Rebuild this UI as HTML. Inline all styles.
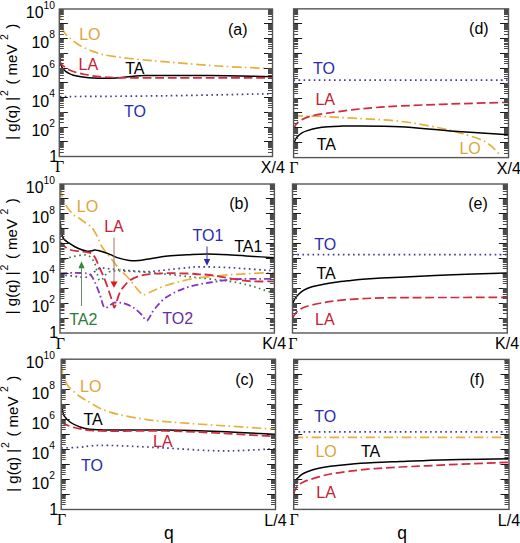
<!DOCTYPE html>
<html><head><meta charset="utf-8"><style>
html,body{margin:0;padding:0;background:#fff;}
body{width:520px;height:543px;overflow:hidden;font-family:"Liberation Sans",sans-serif;}
svg{display:block;}
</style></head><body><svg width="520" height="543" viewBox="0 0 520 543" font-family="Liberation Sans, sans-serif"><defs><clipPath id="clipa"><rect x="59.30" y="9.00" width="213.20" height="147.50"/></clipPath><clipPath id="clipb"><rect x="60.00" y="184.00" width="214.40" height="149.00"/></clipPath><clipPath id="clipc"><rect x="61.20" y="359.20" width="214.30" height="150.30"/></clipPath><clipPath id="clipd"><rect x="293.60" y="8.85" width="214.90" height="148.75"/></clipPath><clipPath id="clipe"><rect x="292.50" y="184.00" width="214.80" height="149.00"/></clipPath><clipPath id="clipf"><rect x="293.70" y="359.40" width="215.30" height="150.00"/></clipPath></defs><path d="M59.80,96.60 C77.33,96.47 129.55,96.28 165.00,95.80 C200.45,95.32 254.58,94.05 272.50,93.70" fill="none" stroke="#3a3a9a" stroke-width="1.70" stroke-dasharray="1.6 3.45" stroke-linecap="butt" clip-path="url(#clipa)"/><path d="M59.60,10.00 C59.72,11.00 60.03,14.00 60.30,16.00 C60.57,18.00 60.87,20.17 61.20,22.00 C61.53,23.83 61.88,25.47 62.30,27.00 C62.72,28.53 63.08,29.93 63.70,31.20 C64.32,32.47 64.97,33.48 66.00,34.60 C67.03,35.72 68.23,36.50 69.90,37.90 C71.57,39.30 73.65,41.38 76.00,43.00 C78.35,44.62 81.13,46.20 84.00,47.60 C86.87,49.00 90.12,50.25 93.20,51.40 C96.28,52.55 98.90,53.63 102.50,54.50 C106.10,55.37 110.22,55.93 114.80,56.60 C119.38,57.27 124.37,57.88 130.00,58.50 C135.63,59.12 142.93,59.77 148.60,60.30 C154.27,60.83 152.43,60.75 164.00,61.70 C175.57,62.65 199.92,64.83 218.00,66.00 C236.08,67.17 263.42,68.25 272.50,68.70" fill="none" stroke="#e8b040" stroke-width="1.70" stroke-dasharray="9.5 3.3 1.6 3.6" clip-path="url(#clipa)"/><path d="M59.70,55.00 C59.80,56.17 60.05,60.25 60.30,62.00 C60.55,63.75 60.82,64.45 61.20,65.50 C61.58,66.55 61.85,67.33 62.60,68.30 C63.35,69.27 64.55,70.42 65.70,71.30 C66.85,72.18 68.22,72.95 69.50,73.60 C70.78,74.25 71.48,74.67 73.40,75.20 C75.32,75.73 78.43,76.38 81.00,76.80 C83.57,77.22 85.97,77.47 88.80,77.70 C91.63,77.93 94.30,78.12 98.00,78.20 C101.70,78.28 106.70,78.35 111.00,78.20 C115.30,78.05 120.05,77.62 123.80,77.30 C127.55,76.98 129.97,76.58 133.50,76.30 C137.03,76.02 138.08,75.75 145.00,75.60 C151.92,75.45 164.17,75.40 175.00,75.40 C185.83,75.40 199.17,75.50 210.00,75.60 C220.83,75.70 229.58,75.80 240.00,76.00 C250.42,76.20 267.08,76.67 272.50,76.80" fill="none" stroke="#000" stroke-width="1.50" clip-path="url(#clipa)"/><path d="M59.70,60.50 C59.92,61.05 60.25,62.80 61.00,63.80 C61.75,64.80 62.78,65.47 64.20,66.50 C65.62,67.53 67.33,68.97 69.50,70.00 C71.67,71.03 74.62,71.95 77.20,72.70 C79.78,73.45 82.43,73.98 85.00,74.50 C87.57,75.02 90.10,75.43 92.60,75.80 C95.10,76.17 97.10,76.43 100.00,76.70 C102.90,76.97 105.00,77.20 110.00,77.40 C115.00,77.60 120.83,77.82 130.00,77.90 C139.17,77.98 141.25,77.90 165.00,77.90 C188.75,77.90 254.58,77.90 272.50,77.90" fill="none" stroke="#d22a3e" stroke-width="1.70" stroke-dasharray="8.8 3.8" clip-path="url(#clipa)"/><text x="79.2" y="40.4" fill="#dca63a" font-size="16.0" text-anchor="start" font-family="Liberation Sans">LO</text><text x="78.5" y="70.0" fill="#c42030" font-size="16.0" text-anchor="start" font-family="Liberation Sans">LA</text><text x="125.2" y="73.5" fill="#000" font-size="16.0" text-anchor="start" font-family="Liberation Sans">TA</text><text x="123.9" y="116.8" fill="#2a2ab0" font-size="16.0" text-anchor="start" font-family="Liberation Sans">TO</text><text x="228.0" y="35.2" fill="#000" font-size="16.0" text-anchor="start" font-family="Liberation Sans">(a)</text><path d="M293.70,80.10 C329.50,80.10 472.70,80.10 508.50,80.10" fill="none" stroke="#3a3a9a" stroke-width="1.70" stroke-dasharray="1.6 3.45" stroke-linecap="butt" clip-path="url(#clipd)"/><path d="M293.70,116.00 C297.25,116.03 305.12,115.83 315.00,116.20 C324.88,116.57 338.83,117.35 353.00,118.20 C367.17,119.05 385.50,119.67 400.00,121.30 C414.50,122.93 430.00,126.05 440.00,128.00 C450.00,129.95 453.33,131.12 460.00,133.00 C466.67,134.88 475.00,137.30 480.00,139.30 C485.00,141.30 486.67,142.38 490.00,145.00 C493.33,147.62 498.33,153.33 500.00,155.00" fill="none" stroke="#e8b040" stroke-width="1.70" stroke-dasharray="9.5 3.3 1.6 3.6" clip-path="url(#clipd)"/><path d="M293.70,144.00 C293.92,143.42 294.53,141.53 295.00,140.50 C295.47,139.47 295.87,138.67 296.50,137.80 C297.13,136.93 297.88,136.13 298.80,135.30 C299.72,134.47 300.70,133.53 302.00,132.80 C303.30,132.07 304.00,131.68 306.60,130.90 C309.20,130.12 313.93,128.78 317.60,128.10 C321.27,127.42 324.92,127.12 328.60,126.80 C332.28,126.48 335.63,126.33 339.70,126.20 C343.77,126.07 342.95,125.90 353.00,126.00 C363.05,126.10 383.83,125.98 400.00,126.80 C416.17,127.62 431.92,129.57 450.00,130.90 C468.08,132.23 498.75,134.15 508.50,134.80" fill="none" stroke="#000" stroke-width="1.50" clip-path="url(#clipd)"/><path d="M293.70,129.00 C294.08,128.25 294.85,125.95 296.00,124.50 C297.15,123.05 298.10,121.72 300.60,120.30 C303.10,118.88 305.77,117.30 311.00,116.00 C316.23,114.70 324.92,113.55 332.00,112.50 C339.08,111.45 346.40,110.52 353.50,109.70 C360.60,108.88 366.85,108.22 374.60,107.60 C382.35,106.98 387.43,106.60 400.00,106.00 C412.57,105.40 431.92,104.62 450.00,104.00 C468.08,103.38 498.75,102.58 508.50,102.30" fill="none" stroke="#d22a3e" stroke-width="1.70" stroke-dasharray="8.8 3.8" clip-path="url(#clipd)"/><text x="313.1" y="73.5" fill="#2a2ab0" font-size="16.0" text-anchor="start" font-family="Liberation Sans">TO</text><text x="315.4" y="105.1" fill="#c42030" font-size="16.0" text-anchor="start" font-family="Liberation Sans">LA</text><text x="316.7" y="149.6" fill="#000" font-size="16.0" text-anchor="start" font-family="Liberation Sans">TA</text><text x="459.4" y="153.5" fill="#dca63a" font-size="16.0" text-anchor="start" font-family="Liberation Sans">LO</text><text x="469.1" y="34.4" fill="#000" font-size="16.0" text-anchor="start" font-family="Liberation Sans">(d)</text><path d="M60.30,275.00 C61.25,275.05 63.50,275.08 66.00,275.30 C68.50,275.52 72.80,276.00 75.30,276.30 C77.80,276.60 79.08,276.98 81.00,277.10 C82.92,277.22 84.87,277.62 86.80,277.00 C88.73,276.38 90.87,274.63 92.60,273.40 C94.33,272.17 95.67,270.50 97.20,269.60 C98.73,268.70 99.67,268.13 101.80,268.00 C103.93,267.87 105.42,268.37 110.00,268.80 C114.58,269.23 122.85,270.13 129.30,270.60 C135.75,271.07 142.25,271.75 148.70,271.60 C155.15,271.45 161.55,270.35 168.00,269.70 C174.45,269.05 182.23,268.18 187.40,267.70 C192.57,267.22 191.90,266.80 199.00,266.80 C206.10,266.80 217.45,267.03 230.00,267.70 C242.55,268.37 266.92,270.28 274.30,270.80" fill="none" stroke="#3a3a9a" stroke-width="1.70" stroke-dasharray="1.6 3.45" stroke-linecap="butt" clip-path="url(#clipb)"/><path d="M60.30,262.00 C60.92,261.58 62.47,260.25 64.00,259.50 C65.53,258.75 67.62,258.07 69.50,257.50 C71.38,256.93 72.98,256.55 75.30,256.10 C77.62,255.65 81.10,254.82 83.40,254.80 C85.70,254.78 87.37,254.92 89.10,256.00 C90.83,257.08 92.65,259.35 93.80,261.30 C94.95,263.25 95.33,265.25 96.00,267.70 C96.67,270.15 97.22,273.88 97.80,276.00 C98.38,278.12 98.73,279.87 99.50,280.40 C100.27,280.93 101.43,280.10 102.40,279.20 C103.37,278.30 104.03,276.28 105.30,275.00 C106.57,273.72 107.55,272.17 110.00,271.50 C112.45,270.83 113.33,270.83 120.00,271.00 C126.67,271.17 138.33,271.53 150.00,272.50 C161.67,273.47 176.67,275.32 190.00,276.80 C203.33,278.28 220.00,279.93 230.00,281.40 C240.00,282.87 244.67,284.28 250.00,285.60 C255.33,286.92 257.95,287.98 262.00,289.30 C266.05,290.62 272.25,292.80 274.30,293.50" fill="none" stroke="#3c7a46" stroke-width="1.70" stroke-dasharray="1.6 3.45" stroke-linecap="butt" clip-path="url(#clipb)"/><path d="M60.30,188.00 C60.50,189.00 61.02,192.17 61.50,194.00 C61.98,195.83 62.48,197.13 63.20,199.00 C63.92,200.87 64.67,203.20 65.80,205.20 C66.93,207.20 68.42,209.17 70.00,211.00 C71.58,212.83 73.63,214.90 75.30,216.20 C76.97,217.50 78.27,217.67 80.00,218.80 C81.73,219.93 84.02,221.82 85.70,223.00 C87.38,224.18 88.83,224.82 90.10,225.90 C91.37,226.98 92.08,227.70 93.30,229.50 C94.52,231.30 96.12,234.12 97.40,236.70 C98.68,239.28 99.78,242.65 101.00,245.00 C102.22,247.35 103.45,249.07 104.70,250.80 C105.95,252.53 107.27,253.90 108.50,255.40 C109.73,256.90 110.93,258.30 112.10,259.80 C113.27,261.30 114.27,262.93 115.50,264.40 C116.73,265.87 118.18,267.20 119.50,268.60 C120.82,270.00 121.68,270.97 123.40,272.80 C125.12,274.63 127.80,277.27 129.80,279.60 C131.80,281.93 133.70,284.70 135.40,286.80 C137.10,288.90 138.60,290.87 140.00,292.20 C141.40,293.53 141.72,295.00 143.80,294.80 C145.88,294.60 149.10,292.45 152.50,291.00 C155.90,289.55 160.00,287.57 164.20,286.10 C168.40,284.63 172.57,283.48 177.70,282.20 C182.83,280.92 186.28,279.65 195.00,278.40 C203.72,277.15 216.78,275.68 230.00,274.70 C243.22,273.72 266.92,272.87 274.30,272.50" fill="none" stroke="#e8b040" stroke-width="1.70" stroke-dasharray="9.5 3.3 1.6 3.6" clip-path="url(#clipb)"/><path d="M60.30,273.40 C62.80,273.32 70.88,272.90 75.30,272.90 C79.72,272.90 84.12,272.92 86.80,273.40 C89.48,273.88 90.05,274.30 91.40,275.80 C92.75,277.30 93.73,279.92 94.90,282.40 C96.07,284.88 97.42,288.18 98.40,290.70 C99.38,293.22 100.03,295.12 100.80,297.50 C101.57,299.88 102.27,303.25 103.00,305.00 C103.73,306.75 104.30,307.73 105.20,308.00 C106.10,308.27 107.35,307.23 108.40,306.60 C109.45,305.97 110.50,304.85 111.50,304.20 C112.50,303.55 113.22,302.98 114.40,302.70 C115.58,302.42 117.28,302.45 118.60,302.50 C119.92,302.55 120.88,302.68 122.30,303.00 C123.72,303.32 125.33,303.68 127.10,304.40 C128.87,305.12 131.45,306.48 132.90,307.30 C134.35,308.12 134.52,308.25 135.80,309.30 C137.08,310.35 139.33,312.25 140.60,313.60 C141.87,314.95 142.40,316.23 143.40,317.40 C144.40,318.57 145.67,320.47 146.60,320.60 C147.53,320.73 148.32,319.08 149.00,318.20 C149.68,317.32 150.10,316.37 150.70,315.30 C151.30,314.23 151.63,313.22 152.60,311.80 C153.57,310.38 155.38,308.17 156.50,306.80 C157.62,305.43 158.18,304.80 159.30,303.60 C160.42,302.40 161.75,300.82 163.20,299.60 C164.65,298.38 165.58,297.73 168.00,296.30 C170.42,294.87 173.83,292.70 177.70,291.00 C181.57,289.30 185.82,287.52 191.20,286.10 C196.58,284.68 203.53,283.60 210.00,282.50 C216.47,281.40 223.33,280.10 230.00,279.50 C236.67,278.90 242.62,279.00 250.00,278.90 C257.38,278.80 270.25,278.90 274.30,278.90" fill="none" stroke="#8436c0" stroke-width="1.80" stroke-dasharray="7 3 1.6 3" clip-path="url(#clipb)"/><path d="M60.30,222.00 C60.38,223.00 60.55,225.92 60.80,228.00 C61.05,230.08 61.27,232.62 61.80,234.50 C62.33,236.38 62.90,237.93 64.00,239.30 C65.10,240.67 66.52,241.42 68.40,242.70 C70.28,243.98 73.20,245.87 75.30,247.00 C77.40,248.13 79.08,248.80 81.00,249.50 C82.92,250.20 85.13,250.95 86.80,251.20 C88.47,251.45 89.65,251.18 91.00,251.00 C92.35,250.82 93.73,250.18 94.90,250.10 C96.07,250.02 96.85,250.27 98.00,250.50 C99.15,250.73 99.80,250.85 101.80,251.50 C103.80,252.15 107.30,253.33 110.00,254.40 C112.70,255.47 114.78,256.90 118.00,257.90 C121.22,258.90 125.80,259.95 129.30,260.40 C132.80,260.85 135.77,260.83 139.00,260.60 C142.23,260.37 143.87,259.75 148.70,259.00 C153.53,258.25 161.55,256.80 168.00,256.10 C174.45,255.40 180.90,255.17 187.40,254.80 C193.90,254.43 199.50,253.87 207.00,253.90 C214.50,253.93 224.63,254.58 232.40,255.00 C240.17,255.42 246.62,255.95 253.60,256.40 C260.58,256.85 270.85,257.48 274.30,257.70" fill="none" stroke="#000" stroke-width="1.50" clip-path="url(#clipb)"/><path d="M60.30,242.00 C60.68,242.43 61.07,243.33 62.60,244.60 C64.13,245.87 66.43,248.45 69.50,249.60 C72.57,250.75 77.53,250.95 81.00,251.50 C84.47,252.05 87.98,251.93 90.30,252.90 C92.62,253.87 93.37,254.83 94.90,257.30 C96.43,259.77 97.98,264.33 99.50,267.70 C101.02,271.07 102.55,273.95 104.00,277.50 C105.45,281.05 107.03,285.67 108.20,289.00 C109.37,292.33 110.20,295.00 111.00,297.50 C111.80,300.00 112.47,302.32 113.00,304.00 C113.53,305.68 113.78,307.40 114.20,307.60 C114.62,307.80 115.03,306.38 115.50,305.20 C115.97,304.02 116.42,302.32 117.00,300.50 C117.58,298.68 118.25,296.13 119.00,294.30 C119.75,292.47 120.63,290.87 121.50,289.50 C122.37,288.13 122.78,287.65 124.20,286.10 C125.62,284.55 127.33,281.92 130.00,280.20 C132.67,278.48 136.30,276.87 140.20,275.80 C144.10,274.73 148.77,274.23 153.40,273.80 C158.03,273.37 162.33,273.25 168.00,273.20 C173.67,273.15 182.23,273.32 187.40,273.50 C192.57,273.68 195.23,274.05 199.00,274.30 C202.77,274.55 204.83,274.33 210.00,275.00 C215.17,275.67 223.33,277.27 230.00,278.30 C236.67,279.33 242.62,280.68 250.00,281.20 C257.38,281.72 270.25,281.37 274.30,281.40" fill="none" stroke="#d22a3e" stroke-width="1.80" stroke-dasharray="8.8 3.8" clip-path="url(#clipb)"/><path d="M81.5,306V266" stroke="#6a8a6a" stroke-width="1"/><path d="M81.5,261.2L78.4,268.2H84.6Z" fill="#2f8a3a"/><path d="M114,237.5V283" stroke="#a07070" stroke-width="1"/><path d="M114,287.8L110.5,281.5H117.5Z" fill="#e01818"/><path d="M207,246.5V260" stroke="#3a3ab0" stroke-width="1"/><path d="M207,265.8L203.8,259H210.2Z" fill="#2a2ab0"/><text x="76.8" y="212.3" fill="#dca63a" font-size="16.0" text-anchor="start" font-family="Liberation Sans">LO</text><text x="104.2" y="232.2" fill="#c42030" font-size="16.0" text-anchor="start" font-family="Liberation Sans">LA</text><text x="192.5" y="241.3" fill="#2a2ab0" font-size="16.0" text-anchor="start" font-family="Liberation Sans">TO1</text><text x="234.2" y="251.8" fill="#000" font-size="16.0" text-anchor="start" font-family="Liberation Sans">TA1</text><text x="69.2" y="324.7" fill="#2f7a3a" font-size="16.0" text-anchor="start" font-family="Liberation Sans">TA2</text><text x="162.3" y="324.2" fill="#6a2e9e" font-size="16.0" text-anchor="start" font-family="Liberation Sans">TO2</text><text x="229.2" y="208.7" fill="#000" font-size="16.0" text-anchor="start" font-family="Liberation Sans">(b)</text><path d="M292.50,254.60 C328.30,254.60 471.50,254.60 507.30,254.60" fill="none" stroke="#3a3a9a" stroke-width="1.70" stroke-dasharray="1.6 3.45" stroke-linecap="butt" clip-path="url(#clipe)"/><path d="M292.80,304.00 C293.00,303.40 293.37,301.65 294.00,300.40 C294.63,299.15 295.43,297.88 296.60,296.50 C297.77,295.12 299.33,293.38 301.00,292.10 C302.67,290.82 304.77,289.68 306.60,288.80 C308.43,287.92 309.77,287.43 312.00,286.80 C314.23,286.17 316.10,285.77 320.00,285.00 C323.90,284.23 330.27,282.97 335.40,282.20 C340.53,281.43 345.67,280.95 350.80,280.40 C355.93,279.85 361.08,279.32 366.20,278.90 C371.32,278.48 375.87,278.18 381.50,277.90 C387.13,277.62 388.10,277.72 400.00,277.20 C411.90,276.68 435.02,275.52 452.90,274.80 C470.78,274.08 498.23,273.22 507.30,272.90" fill="none" stroke="#000" stroke-width="1.50" clip-path="url(#clipe)"/><path d="M292.80,318.50 C293.00,318.00 293.05,316.85 294.00,315.50 C294.95,314.15 296.33,311.95 298.50,310.40 C300.67,308.85 302.92,307.48 307.00,306.20 C311.08,304.92 318.27,303.60 323.00,302.70 C327.73,301.80 330.77,301.37 335.40,300.80 C340.03,300.23 345.67,299.68 350.80,299.30 C355.93,298.92 361.08,298.73 366.20,298.50 C371.32,298.27 375.87,298.05 381.50,297.90 C387.13,297.75 388.58,297.67 400.00,297.60 C411.42,297.53 432.12,297.53 450.00,297.50 C467.88,297.47 497.75,297.42 507.30,297.40" fill="none" stroke="#d22a3e" stroke-width="1.70" stroke-dasharray="8.8 3.8" clip-path="url(#clipe)"/><text x="314.2" y="249.5" fill="#2a2ab0" font-size="16.0" text-anchor="start" font-family="Liberation Sans">TO</text><text x="316.4" y="278.9" fill="#000" font-size="16.0" text-anchor="start" font-family="Liberation Sans">TA</text><text x="315.1" y="324.9" fill="#c42030" font-size="16.0" text-anchor="start" font-family="Liberation Sans">LA</text><text x="468.2" y="208.8" fill="#000" font-size="16.0" text-anchor="start" font-family="Liberation Sans">(e)</text><path d="M61.40,447.90 C64.37,447.80 74.43,447.62 79.20,447.30 C83.97,446.98 86.48,446.32 90.00,446.00 C93.52,445.68 95.05,445.43 100.30,445.40 C105.55,445.37 110.92,445.38 121.50,445.80 C132.08,446.22 149.05,447.10 163.80,447.90 C178.55,448.70 197.30,450.15 210.00,450.60 C222.70,451.05 229.08,450.92 240.00,450.60 C250.92,450.28 269.58,449.02 275.50,448.70" fill="none" stroke="#3a3a9a" stroke-width="1.70" stroke-dasharray="1.6 3.45" stroke-linecap="butt" clip-path="url(#clipc)"/><path d="M61.40,364.00 C61.58,365.33 61.98,369.50 62.50,372.00 C63.02,374.50 63.48,376.57 64.50,379.00 C65.52,381.43 66.15,383.77 68.60,386.60 C71.05,389.43 75.68,393.37 79.20,396.00 C82.72,398.63 86.18,400.33 89.70,402.40 C93.22,404.47 96.77,406.73 100.30,408.40 C103.83,410.07 107.37,411.28 110.90,412.40 C114.43,413.52 116.22,414.02 121.50,415.10 C126.78,416.18 135.20,417.80 142.60,418.90 C150.00,420.00 153.00,420.60 165.90,421.70 C178.80,422.80 201.73,424.25 220.00,425.50 C238.27,426.75 266.25,428.58 275.50,429.20" fill="none" stroke="#e8b040" stroke-width="1.70" stroke-dasharray="9.5 3.3 1.6 3.6" clip-path="url(#clipc)"/><path d="M61.40,403.50 C61.58,404.58 62.02,407.88 62.50,410.00 C62.98,412.12 62.93,414.12 64.30,416.20 C65.67,418.28 68.22,420.77 70.70,422.50 C73.18,424.23 76.03,425.48 79.20,426.60 C82.37,427.72 84.42,428.63 89.70,429.20 C94.98,429.77 98.20,429.87 110.90,430.00 C123.60,430.13 147.72,429.75 165.90,430.00 C184.08,430.25 201.73,430.78 220.00,431.50 C238.27,432.22 266.25,433.83 275.50,434.30" fill="none" stroke="#000" stroke-width="1.50" clip-path="url(#clipc)"/><path d="M61.40,422.50 C62.60,423.03 65.63,424.67 68.60,425.70 C71.57,426.73 73.92,427.82 79.20,428.70 C84.48,429.58 85.85,430.62 100.30,431.00 C114.75,431.38 145.95,430.63 165.90,431.00 C185.85,431.37 201.73,432.28 220.00,433.20 C238.27,434.12 266.25,435.95 275.50,436.50" fill="none" stroke="#d22a3e" stroke-width="1.70" stroke-dasharray="8.8 3.8" clip-path="url(#clipc)"/><text x="80.1" y="391.8" fill="#dca63a" font-size="16.0" text-anchor="start" font-family="Liberation Sans">LO</text><text x="83.4" y="425.0" fill="#000" font-size="16.0" text-anchor="start" font-family="Liberation Sans">TA</text><text x="153.0" y="446.5" fill="#c42030" font-size="16.0" text-anchor="start" font-family="Liberation Sans">LA</text><text x="81.0" y="471.1" fill="#2a2ab0" font-size="16.0" text-anchor="start" font-family="Liberation Sans">TO</text><text x="235.2" y="384.9" fill="#000" font-size="16.0" text-anchor="start" font-family="Liberation Sans">(c)</text><path d="M293.70,431.80 C329.58,431.80 473.12,431.80 509.00,431.80" fill="none" stroke="#3a3a9a" stroke-width="1.70" stroke-dasharray="1.6 3.45" stroke-linecap="butt" clip-path="url(#clipf)"/><path d="M293.70,437.30 C329.58,437.30 473.12,437.30 509.00,437.30" fill="none" stroke="#e8b040" stroke-width="1.70" stroke-dasharray="9.5 3.3 1.6 3.6" clip-path="url(#clipf)"/><path d="M293.90,487.00 C294.02,486.17 294.25,483.22 294.60,482.00 C294.95,480.78 295.43,480.40 296.00,479.70 C296.57,479.00 297.08,478.65 298.00,477.80 C298.92,476.95 299.95,475.62 301.50,474.60 C303.05,473.58 304.42,472.75 307.30,471.70 C310.18,470.65 314.95,469.20 318.80,468.30 C322.65,467.40 325.20,466.98 330.40,466.30 C335.60,465.62 342.63,464.82 350.00,464.20 C357.37,463.58 366.27,463.05 374.60,462.60 C382.93,462.15 391.27,461.87 400.00,461.50 C408.73,461.13 417.00,460.72 427.00,460.40 C437.00,460.08 446.33,459.88 460.00,459.60 C473.67,459.32 500.83,458.85 509.00,458.70" fill="none" stroke="#000" stroke-width="1.50" clip-path="url(#clipf)"/><path d="M293.90,494.50 C294.02,493.92 294.17,492.22 294.60,491.00 C295.03,489.78 295.73,488.30 296.50,487.20 C297.27,486.10 298.12,485.23 299.20,484.40 C300.28,483.57 301.65,482.87 303.00,482.20 C304.35,481.53 304.67,481.28 307.30,480.40 C309.93,479.52 314.95,477.97 318.80,476.90 C322.65,475.83 325.20,474.97 330.40,474.00 C335.60,473.03 342.63,472.00 350.00,471.10 C357.37,470.20 366.27,469.28 374.60,468.60 C382.93,467.92 391.27,467.47 400.00,467.00 C408.73,466.53 417.00,466.27 427.00,465.80 C437.00,465.33 446.33,464.78 460.00,464.20 C473.67,463.62 500.83,462.62 509.00,462.30" fill="none" stroke="#d22a3e" stroke-width="1.70" stroke-dasharray="8.8 3.8" clip-path="url(#clipf)"/><text x="314.2" y="421.5" fill="#2a2ab0" font-size="16.0" text-anchor="start" font-family="Liberation Sans">TO</text><text x="315.4" y="456.5" fill="#dca63a" font-size="16.0" text-anchor="start" font-family="Liberation Sans">LO</text><text x="360.9" y="456.5" fill="#000" font-size="16.0" text-anchor="start" font-family="Liberation Sans">TA</text><text x="316.3" y="498.2" fill="#c42030" font-size="16.0" text-anchor="start" font-family="Liberation Sans">LA</text><text x="469.5" y="384.6" fill="#000" font-size="16.0" text-anchor="start" font-family="Liberation Sans">(f)</text><path d="M59.30,141.50h8.5 M272.50,141.50h-8.5 M59.30,127.50h8.5 M272.50,127.50h-8.5 M59.30,112.50h8.5 M272.50,112.50h-8.5 M59.30,97.50h8.5 M272.50,97.50h-8.5 M59.30,82.50h8.5 M272.50,82.50h-8.5 M59.30,68.50h8.5 M272.50,68.50h-8.5 M59.30,53.50h8.5 M272.50,53.50h-8.5 M59.30,38.50h8.5 M272.50,38.50h-8.5 M59.30,23.50h8.5 M272.50,23.50h-8.5" stroke="#1a1a1a" stroke-width="1" fill="none"/><path d="M59.30,152.50h4.5 M272.50,152.50h-4.5 M59.30,149.50h4.5 M272.50,149.50h-4.5 M59.30,147.50h4.5 M272.50,147.50h-4.5 M59.30,146.50h4.5 M272.50,146.50h-4.5 M59.30,145.50h4.5 M272.50,145.50h-4.5 M59.30,144.50h4.5 M272.50,144.50h-4.5 M59.30,143.50h4.5 M272.50,143.50h-4.5 M59.30,142.50h4.5 M272.50,142.50h-4.5 M59.30,137.50h4.5 M272.50,137.50h-4.5 M59.30,134.50h4.5 M272.50,134.50h-4.5 M59.30,132.50h4.5 M272.50,132.50h-4.5 M59.30,131.50h4.5 M272.50,131.50h-4.5 M59.30,130.50h4.5 M272.50,130.50h-4.5 M59.30,129.50h4.5 M272.50,129.50h-4.5 M59.30,128.50h4.5 M272.50,128.50h-4.5 M59.30,127.50h4.5 M272.50,127.50h-4.5 M59.30,122.50h4.5 M272.50,122.50h-4.5 M59.30,119.50h4.5 M272.50,119.50h-4.5 M59.30,118.50h4.5 M272.50,118.50h-4.5 M59.30,116.50h4.5 M272.50,116.50h-4.5 M59.30,115.50h4.5 M272.50,115.50h-4.5 M59.30,114.50h4.5 M272.50,114.50h-4.5 M59.30,113.50h4.5 M272.50,113.50h-4.5 M59.30,112.50h4.5 M272.50,112.50h-4.5 M59.30,107.50h4.5 M272.50,107.50h-4.5 M59.30,105.50h4.5 M272.50,105.50h-4.5 M59.30,103.50h4.5 M272.50,103.50h-4.5 M59.30,101.50h4.5 M272.50,101.50h-4.5 M59.30,100.50h4.5 M272.50,100.50h-4.5 M59.30,99.50h4.5 M272.50,99.50h-4.5 M59.30,98.50h4.5 M272.50,98.50h-4.5 M59.30,98.50h4.5 M272.50,98.50h-4.5 M59.30,93.50h4.5 M272.50,93.50h-4.5 M59.30,90.50h4.5 M272.50,90.50h-4.5 M59.30,88.50h4.5 M272.50,88.50h-4.5 M59.30,87.50h4.5 M272.50,87.50h-4.5 M59.30,86.50h4.5 M272.50,86.50h-4.5 M59.30,85.50h4.5 M272.50,85.50h-4.5 M59.30,84.50h4.5 M272.50,84.50h-4.5 M59.30,83.50h4.5 M272.50,83.50h-4.5 M59.30,78.50h4.5 M272.50,78.50h-4.5 M59.30,75.50h4.5 M272.50,75.50h-4.5 M59.30,73.50h4.5 M272.50,73.50h-4.5 M59.30,72.50h4.5 M272.50,72.50h-4.5 M59.30,71.50h4.5 M272.50,71.50h-4.5 M59.30,70.50h4.5 M272.50,70.50h-4.5 M59.30,69.50h4.5 M272.50,69.50h-4.5 M59.30,68.50h4.5 M272.50,68.50h-4.5 M59.30,63.50h4.5 M272.50,63.50h-4.5 M59.30,60.50h4.5 M272.50,60.50h-4.5 M59.30,59.50h4.5 M272.50,59.50h-4.5 M59.30,57.50h4.5 M272.50,57.50h-4.5 M59.30,56.50h4.5 M272.50,56.50h-4.5 M59.30,55.50h4.5 M272.50,55.50h-4.5 M59.30,54.50h4.5 M272.50,54.50h-4.5 M59.30,53.50h4.5 M272.50,53.50h-4.5 M59.30,48.50h4.5 M272.50,48.50h-4.5 M59.30,46.50h4.5 M272.50,46.50h-4.5 M59.30,44.50h4.5 M272.50,44.50h-4.5 M59.30,42.50h4.5 M272.50,42.50h-4.5 M59.30,41.50h4.5 M272.50,41.50h-4.5 M59.30,40.50h4.5 M272.50,40.50h-4.5 M59.30,39.50h4.5 M272.50,39.50h-4.5 M59.30,39.50h4.5 M272.50,39.50h-4.5 M59.30,34.50h4.5 M272.50,34.50h-4.5 M59.30,31.50h4.5 M272.50,31.50h-4.5 M59.30,29.50h4.5 M272.50,29.50h-4.5 M59.30,28.50h4.5 M272.50,28.50h-4.5 M59.30,27.50h4.5 M272.50,27.50h-4.5 M59.30,26.50h4.5 M272.50,26.50h-4.5 M59.30,25.50h4.5 M272.50,25.50h-4.5 M59.30,24.50h4.5 M272.50,24.50h-4.5 M59.30,19.50h4.5 M272.50,19.50h-4.5 M59.30,16.50h4.5 M272.50,16.50h-4.5 M59.30,14.50h4.5 M272.50,14.50h-4.5 M59.30,13.50h4.5 M272.50,13.50h-4.5 M59.30,12.50h4.5 M272.50,12.50h-4.5 M59.30,11.50h4.5 M272.50,11.50h-4.5 M59.30,10.50h4.5 M272.50,10.50h-4.5 M59.30,9.50h4.5 M272.50,9.50h-4.5" stroke="#4a4a4a" stroke-width="1" fill="none"/><rect x="59.30" y="9.00" width="213.20" height="147.50" fill="none" stroke="#555" stroke-width="1.4"/><path d="M60.00,318.50h8.5 M274.40,318.50h-8.5 M60.00,303.50h8.5 M274.40,303.50h-8.5 M60.00,288.50h8.5 M274.40,288.50h-8.5 M60.00,273.50h8.5 M274.40,273.50h-8.5 M60.00,258.50h8.5 M274.40,258.50h-8.5 M60.00,243.50h8.5 M274.40,243.50h-8.5 M60.00,228.50h8.5 M274.40,228.50h-8.5 M60.00,213.50h8.5 M274.40,213.50h-8.5 M60.00,198.50h8.5 M274.40,198.50h-8.5" stroke="#1a1a1a" stroke-width="1" fill="none"/><path d="M60.00,328.50h4.5 M274.40,328.50h-4.5 M60.00,325.50h4.5 M274.40,325.50h-4.5 M60.00,324.50h4.5 M274.40,324.50h-4.5 M60.00,322.50h4.5 M274.40,322.50h-4.5 M60.00,321.50h4.5 M274.40,321.50h-4.5 M60.00,320.50h4.5 M274.40,320.50h-4.5 M60.00,319.50h4.5 M274.40,319.50h-4.5 M60.00,318.50h4.5 M274.40,318.50h-4.5 M60.00,313.50h4.5 M274.40,313.50h-4.5 M60.00,310.50h4.5 M274.40,310.50h-4.5 M60.00,309.50h4.5 M274.40,309.50h-4.5 M60.00,307.50h4.5 M274.40,307.50h-4.5 M60.00,306.50h4.5 M274.40,306.50h-4.5 M60.00,305.50h4.5 M274.40,305.50h-4.5 M60.00,304.50h4.5 M274.40,304.50h-4.5 M60.00,303.50h4.5 M274.40,303.50h-4.5 M60.00,298.50h4.5 M274.40,298.50h-4.5 M60.00,296.50h4.5 M274.40,296.50h-4.5 M60.00,294.50h4.5 M274.40,294.50h-4.5 M60.00,292.50h4.5 M274.40,292.50h-4.5 M60.00,291.50h4.5 M274.40,291.50h-4.5 M60.00,290.50h4.5 M274.40,290.50h-4.5 M60.00,289.50h4.5 M274.40,289.50h-4.5 M60.00,288.50h4.5 M274.40,288.50h-4.5 M60.00,283.50h4.5 M274.40,283.50h-4.5 M60.00,281.50h4.5 M274.40,281.50h-4.5 M60.00,279.50h4.5 M274.40,279.50h-4.5 M60.00,277.50h4.5 M274.40,277.50h-4.5 M60.00,276.50h4.5 M274.40,276.50h-4.5 M60.00,275.50h4.5 M274.40,275.50h-4.5 M60.00,274.50h4.5 M274.40,274.50h-4.5 M60.00,274.50h4.5 M274.40,274.50h-4.5 M60.00,268.50h4.5 M274.40,268.50h-4.5 M60.00,266.50h4.5 M274.40,266.50h-4.5 M60.00,264.50h4.5 M274.40,264.50h-4.5 M60.00,262.50h4.5 M274.40,262.50h-4.5 M60.00,261.50h4.5 M274.40,261.50h-4.5 M60.00,260.50h4.5 M274.40,260.50h-4.5 M60.00,259.50h4.5 M274.40,259.50h-4.5 M60.00,259.50h4.5 M274.40,259.50h-4.5 M60.00,254.50h4.5 M274.40,254.50h-4.5 M60.00,251.50h4.5 M274.40,251.50h-4.5 M60.00,249.50h4.5 M274.40,249.50h-4.5 M60.00,248.50h4.5 M274.40,248.50h-4.5 M60.00,246.50h4.5 M274.40,246.50h-4.5 M60.00,245.50h4.5 M274.40,245.50h-4.5 M60.00,245.50h4.5 M274.40,245.50h-4.5 M60.00,244.50h4.5 M274.40,244.50h-4.5 M60.00,239.50h4.5 M274.40,239.50h-4.5 M60.00,236.50h4.5 M274.40,236.50h-4.5 M60.00,234.50h4.5 M274.40,234.50h-4.5 M60.00,233.50h4.5 M274.40,233.50h-4.5 M60.00,232.50h4.5 M274.40,232.50h-4.5 M60.00,231.50h4.5 M274.40,231.50h-4.5 M60.00,230.50h4.5 M274.40,230.50h-4.5 M60.00,229.50h4.5 M274.40,229.50h-4.5 M60.00,224.50h4.5 M274.40,224.50h-4.5 M60.00,221.50h4.5 M274.40,221.50h-4.5 M60.00,219.50h4.5 M274.40,219.50h-4.5 M60.00,218.50h4.5 M274.40,218.50h-4.5 M60.00,217.50h4.5 M274.40,217.50h-4.5 M60.00,216.50h4.5 M274.40,216.50h-4.5 M60.00,215.50h4.5 M274.40,215.50h-4.5 M60.00,214.50h4.5 M274.40,214.50h-4.5 M60.00,209.50h4.5 M274.40,209.50h-4.5 M60.00,206.50h4.5 M274.40,206.50h-4.5 M60.00,204.50h4.5 M274.40,204.50h-4.5 M60.00,203.50h4.5 M274.40,203.50h-4.5 M60.00,202.50h4.5 M274.40,202.50h-4.5 M60.00,201.50h4.5 M274.40,201.50h-4.5 M60.00,200.50h4.5 M274.40,200.50h-4.5 M60.00,199.50h4.5 M274.40,199.50h-4.5 M60.00,194.50h4.5 M274.40,194.50h-4.5 M60.00,191.50h4.5 M274.40,191.50h-4.5 M60.00,189.50h4.5 M274.40,189.50h-4.5 M60.00,188.50h4.5 M274.40,188.50h-4.5 M60.00,187.50h4.5 M274.40,187.50h-4.5 M60.00,186.50h4.5 M274.40,186.50h-4.5 M60.00,185.50h4.5 M274.40,185.50h-4.5 M60.00,184.50h4.5 M274.40,184.50h-4.5" stroke="#4a4a4a" stroke-width="1" fill="none"/><rect x="60.00" y="184.00" width="214.40" height="149.00" fill="none" stroke="#555" stroke-width="1.4"/><path d="M61.20,494.50h8.5 M275.50,494.50h-8.5 M61.20,479.50h8.5 M275.50,479.50h-8.5 M61.20,464.50h8.5 M275.50,464.50h-8.5 M61.20,449.50h8.5 M275.50,449.50h-8.5 M61.20,434.50h8.5 M275.50,434.50h-8.5 M61.20,419.50h8.5 M275.50,419.50h-8.5 M61.20,404.50h8.5 M275.50,404.50h-8.5 M61.20,389.50h8.5 M275.50,389.50h-8.5 M61.20,374.50h8.5 M275.50,374.50h-8.5" stroke="#1a1a1a" stroke-width="1" fill="none"/><path d="M61.20,504.50h4.5 M275.50,504.50h-4.5 M61.20,502.50h4.5 M275.50,502.50h-4.5 M61.20,500.50h4.5 M275.50,500.50h-4.5 M61.20,498.50h4.5 M275.50,498.50h-4.5 M61.20,497.50h4.5 M275.50,497.50h-4.5 M61.20,496.50h4.5 M275.50,496.50h-4.5 M61.20,495.50h4.5 M275.50,495.50h-4.5 M61.20,495.50h4.5 M275.50,495.50h-4.5 M61.20,489.50h4.5 M275.50,489.50h-4.5 M61.20,487.50h4.5 M275.50,487.50h-4.5 M61.20,485.50h4.5 M275.50,485.50h-4.5 M61.20,483.50h4.5 M275.50,483.50h-4.5 M61.20,482.50h4.5 M275.50,482.50h-4.5 M61.20,481.50h4.5 M275.50,481.50h-4.5 M61.20,480.50h4.5 M275.50,480.50h-4.5 M61.20,480.50h4.5 M275.50,480.50h-4.5 M61.20,474.50h4.5 M275.50,474.50h-4.5 M61.20,472.50h4.5 M275.50,472.50h-4.5 M61.20,470.50h4.5 M275.50,470.50h-4.5 M61.20,468.50h4.5 M275.50,468.50h-4.5 M61.20,467.50h4.5 M275.50,467.50h-4.5 M61.20,466.50h4.5 M275.50,466.50h-4.5 M61.20,465.50h4.5 M275.50,465.50h-4.5 M61.20,465.50h4.5 M275.50,465.50h-4.5 M61.20,459.50h4.5 M275.50,459.50h-4.5 M61.20,457.50h4.5 M275.50,457.50h-4.5 M61.20,455.50h4.5 M275.50,455.50h-4.5 M61.20,453.50h4.5 M275.50,453.50h-4.5 M61.20,452.50h4.5 M275.50,452.50h-4.5 M61.20,451.50h4.5 M275.50,451.50h-4.5 M61.20,450.50h4.5 M275.50,450.50h-4.5 M61.20,450.50h4.5 M275.50,450.50h-4.5 M61.20,444.50h4.5 M275.50,444.50h-4.5 M61.20,442.50h4.5 M275.50,442.50h-4.5 M61.20,440.50h4.5 M275.50,440.50h-4.5 M61.20,438.50h4.5 M275.50,438.50h-4.5 M61.20,437.50h4.5 M275.50,437.50h-4.5 M61.20,436.50h4.5 M275.50,436.50h-4.5 M61.20,435.50h4.5 M275.50,435.50h-4.5 M61.20,435.50h4.5 M275.50,435.50h-4.5 M61.20,429.50h4.5 M275.50,429.50h-4.5 M61.20,427.50h4.5 M275.50,427.50h-4.5 M61.20,425.50h4.5 M275.50,425.50h-4.5 M61.20,423.50h4.5 M275.50,423.50h-4.5 M61.20,422.50h4.5 M275.50,422.50h-4.5 M61.20,421.50h4.5 M275.50,421.50h-4.5 M61.20,420.50h4.5 M275.50,420.50h-4.5 M61.20,420.50h4.5 M275.50,420.50h-4.5 M61.20,414.50h4.5 M275.50,414.50h-4.5 M61.20,412.50h4.5 M275.50,412.50h-4.5 M61.20,410.50h4.5 M275.50,410.50h-4.5 M61.20,408.50h4.5 M275.50,408.50h-4.5 M61.20,407.50h4.5 M275.50,407.50h-4.5 M61.20,406.50h4.5 M275.50,406.50h-4.5 M61.20,405.50h4.5 M275.50,405.50h-4.5 M61.20,404.50h4.5 M275.50,404.50h-4.5 M61.20,399.50h4.5 M275.50,399.50h-4.5 M61.20,397.50h4.5 M275.50,397.50h-4.5 M61.20,395.50h4.5 M275.50,395.50h-4.5 M61.20,393.50h4.5 M275.50,393.50h-4.5 M61.20,392.50h4.5 M275.50,392.50h-4.5 M61.20,391.50h4.5 M275.50,391.50h-4.5 M61.20,390.50h4.5 M275.50,390.50h-4.5 M61.20,389.50h4.5 M275.50,389.50h-4.5 M61.20,384.50h4.5 M275.50,384.50h-4.5 M61.20,382.50h4.5 M275.50,382.50h-4.5 M61.20,380.50h4.5 M275.50,380.50h-4.5 M61.20,378.50h4.5 M275.50,378.50h-4.5 M61.20,377.50h4.5 M275.50,377.50h-4.5 M61.20,376.50h4.5 M275.50,376.50h-4.5 M61.20,375.50h4.5 M275.50,375.50h-4.5 M61.20,374.50h4.5 M275.50,374.50h-4.5 M61.20,369.50h4.5 M275.50,369.50h-4.5 M61.20,367.50h4.5 M275.50,367.50h-4.5 M61.20,365.50h4.5 M275.50,365.50h-4.5 M61.20,363.50h4.5 M275.50,363.50h-4.5 M61.20,362.50h4.5 M275.50,362.50h-4.5 M61.20,361.50h4.5 M275.50,361.50h-4.5 M61.20,360.50h4.5 M275.50,360.50h-4.5 M61.20,359.50h4.5 M275.50,359.50h-4.5" stroke="#4a4a4a" stroke-width="1" fill="none"/><rect x="61.20" y="359.20" width="214.30" height="150.30" fill="none" stroke="#555" stroke-width="1.4"/><path d="M293.60,142.50h8.5 M508.50,142.50h-8.5 M293.60,127.50h8.5 M508.50,127.50h-8.5 M293.60,112.50h8.5 M508.50,112.50h-8.5 M293.60,98.50h8.5 M508.50,98.50h-8.5 M293.60,83.50h8.5 M508.50,83.50h-8.5 M293.60,68.50h8.5 M508.50,68.50h-8.5 M293.60,53.50h8.5 M508.50,53.50h-8.5 M293.60,38.50h8.5 M508.50,38.50h-8.5 M293.60,23.50h8.5 M508.50,23.50h-8.5" stroke="#1a1a1a" stroke-width="1" fill="none"/><path d="M293.60,153.50h4.5 M508.50,153.50h-4.5 M293.60,150.50h4.5 M508.50,150.50h-4.5 M293.60,148.50h4.5 M508.50,148.50h-4.5 M293.60,147.50h4.5 M508.50,147.50h-4.5 M293.60,146.50h4.5 M508.50,146.50h-4.5 M293.60,145.50h4.5 M508.50,145.50h-4.5 M293.60,144.50h4.5 M508.50,144.50h-4.5 M293.60,143.50h4.5 M508.50,143.50h-4.5 M293.60,138.50h4.5 M508.50,138.50h-4.5 M293.60,135.50h4.5 M508.50,135.50h-4.5 M293.60,133.50h4.5 M508.50,133.50h-4.5 M293.60,132.50h4.5 M508.50,132.50h-4.5 M293.60,131.50h4.5 M508.50,131.50h-4.5 M293.60,130.50h4.5 M508.50,130.50h-4.5 M293.60,129.50h4.5 M508.50,129.50h-4.5 M293.60,128.50h4.5 M508.50,128.50h-4.5 M293.60,123.50h4.5 M508.50,123.50h-4.5 M293.60,120.50h4.5 M508.50,120.50h-4.5 M293.60,118.50h4.5 M508.50,118.50h-4.5 M293.60,117.50h4.5 M508.50,117.50h-4.5 M293.60,116.50h4.5 M508.50,116.50h-4.5 M293.60,115.50h4.5 M508.50,115.50h-4.5 M293.60,114.50h4.5 M508.50,114.50h-4.5 M293.60,113.50h4.5 M508.50,113.50h-4.5 M293.60,108.50h4.5 M508.50,108.50h-4.5 M293.60,105.50h4.5 M508.50,105.50h-4.5 M293.60,104.50h4.5 M508.50,104.50h-4.5 M293.60,102.50h4.5 M508.50,102.50h-4.5 M293.60,101.50h4.5 M508.50,101.50h-4.5 M293.60,100.50h4.5 M508.50,100.50h-4.5 M293.60,99.50h4.5 M508.50,99.50h-4.5 M293.60,98.50h4.5 M508.50,98.50h-4.5 M293.60,93.50h4.5 M508.50,93.50h-4.5 M293.60,91.50h4.5 M508.50,91.50h-4.5 M293.60,89.50h4.5 M508.50,89.50h-4.5 M293.60,87.50h4.5 M508.50,87.50h-4.5 M293.60,86.50h4.5 M508.50,86.50h-4.5 M293.60,85.50h4.5 M508.50,85.50h-4.5 M293.60,84.50h4.5 M508.50,84.50h-4.5 M293.60,83.50h4.5 M508.50,83.50h-4.5 M293.60,78.50h4.5 M508.50,78.50h-4.5 M293.60,76.50h4.5 M508.50,76.50h-4.5 M293.60,74.50h4.5 M508.50,74.50h-4.5 M293.60,72.50h4.5 M508.50,72.50h-4.5 M293.60,71.50h4.5 M508.50,71.50h-4.5 M293.60,70.50h4.5 M508.50,70.50h-4.5 M293.60,69.50h4.5 M508.50,69.50h-4.5 M293.60,69.50h4.5 M508.50,69.50h-4.5 M293.60,63.50h4.5 M508.50,63.50h-4.5 M293.60,61.50h4.5 M508.50,61.50h-4.5 M293.60,59.50h4.5 M508.50,59.50h-4.5 M293.60,57.50h4.5 M508.50,57.50h-4.5 M293.60,56.50h4.5 M508.50,56.50h-4.5 M293.60,55.50h4.5 M508.50,55.50h-4.5 M293.60,54.50h4.5 M508.50,54.50h-4.5 M293.60,54.50h4.5 M508.50,54.50h-4.5 M293.60,48.50h4.5 M508.50,48.50h-4.5 M293.60,46.50h4.5 M508.50,46.50h-4.5 M293.60,44.50h4.5 M508.50,44.50h-4.5 M293.60,43.50h4.5 M508.50,43.50h-4.5 M293.60,41.50h4.5 M508.50,41.50h-4.5 M293.60,40.50h4.5 M508.50,40.50h-4.5 M293.60,40.50h4.5 M508.50,40.50h-4.5 M293.60,39.50h4.5 M508.50,39.50h-4.5 M293.60,34.50h4.5 M508.50,34.50h-4.5 M293.60,31.50h4.5 M508.50,31.50h-4.5 M293.60,29.50h4.5 M508.50,29.50h-4.5 M293.60,28.50h4.5 M508.50,28.50h-4.5 M293.60,27.50h4.5 M508.50,27.50h-4.5 M293.60,26.50h4.5 M508.50,26.50h-4.5 M293.60,25.50h4.5 M508.50,25.50h-4.5 M293.60,24.50h4.5 M508.50,24.50h-4.5 M293.60,19.50h4.5 M508.50,19.50h-4.5 M293.60,16.50h4.5 M508.50,16.50h-4.5 M293.60,14.50h4.5 M508.50,14.50h-4.5 M293.60,13.50h4.5 M508.50,13.50h-4.5 M293.60,12.50h4.5 M508.50,12.50h-4.5 M293.60,11.50h4.5 M508.50,11.50h-4.5 M293.60,10.50h4.5 M508.50,10.50h-4.5 M293.60,9.50h4.5 M508.50,9.50h-4.5" stroke="#4a4a4a" stroke-width="1" fill="none"/><rect x="293.60" y="8.85" width="214.90" height="148.75" fill="none" stroke="#555" stroke-width="1.4"/><path d="M292.50,318.50h8.5 M507.30,318.50h-8.5 M292.50,303.50h8.5 M507.30,303.50h-8.5 M292.50,288.50h8.5 M507.30,288.50h-8.5 M292.50,273.50h8.5 M507.30,273.50h-8.5 M292.50,258.50h8.5 M507.30,258.50h-8.5 M292.50,243.50h8.5 M507.30,243.50h-8.5 M292.50,228.50h8.5 M507.30,228.50h-8.5 M292.50,213.50h8.5 M507.30,213.50h-8.5 M292.50,198.50h8.5 M507.30,198.50h-8.5" stroke="#1a1a1a" stroke-width="1" fill="none"/><path d="M292.50,328.50h4.5 M507.30,328.50h-4.5 M292.50,325.50h4.5 M507.30,325.50h-4.5 M292.50,324.50h4.5 M507.30,324.50h-4.5 M292.50,322.50h4.5 M507.30,322.50h-4.5 M292.50,321.50h4.5 M507.30,321.50h-4.5 M292.50,320.50h4.5 M507.30,320.50h-4.5 M292.50,319.50h4.5 M507.30,319.50h-4.5 M292.50,318.50h4.5 M507.30,318.50h-4.5 M292.50,313.50h4.5 M507.30,313.50h-4.5 M292.50,310.50h4.5 M507.30,310.50h-4.5 M292.50,309.50h4.5 M507.30,309.50h-4.5 M292.50,307.50h4.5 M507.30,307.50h-4.5 M292.50,306.50h4.5 M507.30,306.50h-4.5 M292.50,305.50h4.5 M507.30,305.50h-4.5 M292.50,304.50h4.5 M507.30,304.50h-4.5 M292.50,303.50h4.5 M507.30,303.50h-4.5 M292.50,298.50h4.5 M507.30,298.50h-4.5 M292.50,296.50h4.5 M507.30,296.50h-4.5 M292.50,294.50h4.5 M507.30,294.50h-4.5 M292.50,292.50h4.5 M507.30,292.50h-4.5 M292.50,291.50h4.5 M507.30,291.50h-4.5 M292.50,290.50h4.5 M507.30,290.50h-4.5 M292.50,289.50h4.5 M507.30,289.50h-4.5 M292.50,288.50h4.5 M507.30,288.50h-4.5 M292.50,283.50h4.5 M507.30,283.50h-4.5 M292.50,281.50h4.5 M507.30,281.50h-4.5 M292.50,279.50h4.5 M507.30,279.50h-4.5 M292.50,277.50h4.5 M507.30,277.50h-4.5 M292.50,276.50h4.5 M507.30,276.50h-4.5 M292.50,275.50h4.5 M507.30,275.50h-4.5 M292.50,274.50h4.5 M507.30,274.50h-4.5 M292.50,274.50h4.5 M507.30,274.50h-4.5 M292.50,268.50h4.5 M507.30,268.50h-4.5 M292.50,266.50h4.5 M507.30,266.50h-4.5 M292.50,264.50h4.5 M507.30,264.50h-4.5 M292.50,262.50h4.5 M507.30,262.50h-4.5 M292.50,261.50h4.5 M507.30,261.50h-4.5 M292.50,260.50h4.5 M507.30,260.50h-4.5 M292.50,259.50h4.5 M507.30,259.50h-4.5 M292.50,259.50h4.5 M507.30,259.50h-4.5 M292.50,254.50h4.5 M507.30,254.50h-4.5 M292.50,251.50h4.5 M507.30,251.50h-4.5 M292.50,249.50h4.5 M507.30,249.50h-4.5 M292.50,248.50h4.5 M507.30,248.50h-4.5 M292.50,246.50h4.5 M507.30,246.50h-4.5 M292.50,245.50h4.5 M507.30,245.50h-4.5 M292.50,245.50h4.5 M507.30,245.50h-4.5 M292.50,244.50h4.5 M507.30,244.50h-4.5 M292.50,239.50h4.5 M507.30,239.50h-4.5 M292.50,236.50h4.5 M507.30,236.50h-4.5 M292.50,234.50h4.5 M507.30,234.50h-4.5 M292.50,233.50h4.5 M507.30,233.50h-4.5 M292.50,232.50h4.5 M507.30,232.50h-4.5 M292.50,231.50h4.5 M507.30,231.50h-4.5 M292.50,230.50h4.5 M507.30,230.50h-4.5 M292.50,229.50h4.5 M507.30,229.50h-4.5 M292.50,224.50h4.5 M507.30,224.50h-4.5 M292.50,221.50h4.5 M507.30,221.50h-4.5 M292.50,219.50h4.5 M507.30,219.50h-4.5 M292.50,218.50h4.5 M507.30,218.50h-4.5 M292.50,217.50h4.5 M507.30,217.50h-4.5 M292.50,216.50h4.5 M507.30,216.50h-4.5 M292.50,215.50h4.5 M507.30,215.50h-4.5 M292.50,214.50h4.5 M507.30,214.50h-4.5 M292.50,209.50h4.5 M507.30,209.50h-4.5 M292.50,206.50h4.5 M507.30,206.50h-4.5 M292.50,204.50h4.5 M507.30,204.50h-4.5 M292.50,203.50h4.5 M507.30,203.50h-4.5 M292.50,202.50h4.5 M507.30,202.50h-4.5 M292.50,201.50h4.5 M507.30,201.50h-4.5 M292.50,200.50h4.5 M507.30,200.50h-4.5 M292.50,199.50h4.5 M507.30,199.50h-4.5 M292.50,194.50h4.5 M507.30,194.50h-4.5 M292.50,191.50h4.5 M507.30,191.50h-4.5 M292.50,189.50h4.5 M507.30,189.50h-4.5 M292.50,188.50h4.5 M507.30,188.50h-4.5 M292.50,187.50h4.5 M507.30,187.50h-4.5 M292.50,186.50h4.5 M507.30,186.50h-4.5 M292.50,185.50h4.5 M507.30,185.50h-4.5 M292.50,184.50h4.5 M507.30,184.50h-4.5" stroke="#4a4a4a" stroke-width="1" fill="none"/><rect x="292.50" y="184.00" width="214.80" height="149.00" fill="none" stroke="#555" stroke-width="1.4"/><path d="M293.70,494.50h8.5 M509.00,494.50h-8.5 M293.70,479.50h8.5 M509.00,479.50h-8.5 M293.70,464.50h8.5 M509.00,464.50h-8.5 M293.70,449.50h8.5 M509.00,449.50h-8.5 M293.70,434.50h8.5 M509.00,434.50h-8.5 M293.70,419.50h8.5 M509.00,419.50h-8.5 M293.70,404.50h8.5 M509.00,404.50h-8.5 M293.70,389.50h8.5 M509.00,389.50h-8.5 M293.70,374.50h8.5 M509.00,374.50h-8.5" stroke="#1a1a1a" stroke-width="1" fill="none"/><path d="M293.70,504.50h4.5 M509.00,504.50h-4.5 M293.70,502.50h4.5 M509.00,502.50h-4.5 M293.70,500.50h4.5 M509.00,500.50h-4.5 M293.70,498.50h4.5 M509.00,498.50h-4.5 M293.70,497.50h4.5 M509.00,497.50h-4.5 M293.70,496.50h4.5 M509.00,496.50h-4.5 M293.70,495.50h4.5 M509.00,495.50h-4.5 M293.70,495.50h4.5 M509.00,495.50h-4.5 M293.70,489.50h4.5 M509.00,489.50h-4.5 M293.70,487.50h4.5 M509.00,487.50h-4.5 M293.70,485.50h4.5 M509.00,485.50h-4.5 M293.70,483.50h4.5 M509.00,483.50h-4.5 M293.70,482.50h4.5 M509.00,482.50h-4.5 M293.70,481.50h4.5 M509.00,481.50h-4.5 M293.70,480.50h4.5 M509.00,480.50h-4.5 M293.70,480.50h4.5 M509.00,480.50h-4.5 M293.70,474.50h4.5 M509.00,474.50h-4.5 M293.70,472.50h4.5 M509.00,472.50h-4.5 M293.70,470.50h4.5 M509.00,470.50h-4.5 M293.70,468.50h4.5 M509.00,468.50h-4.5 M293.70,467.50h4.5 M509.00,467.50h-4.5 M293.70,466.50h4.5 M509.00,466.50h-4.5 M293.70,465.50h4.5 M509.00,465.50h-4.5 M293.70,465.50h4.5 M509.00,465.50h-4.5 M293.70,459.50h4.5 M509.00,459.50h-4.5 M293.70,457.50h4.5 M509.00,457.50h-4.5 M293.70,455.50h4.5 M509.00,455.50h-4.5 M293.70,453.50h4.5 M509.00,453.50h-4.5 M293.70,452.50h4.5 M509.00,452.50h-4.5 M293.70,451.50h4.5 M509.00,451.50h-4.5 M293.70,450.50h4.5 M509.00,450.50h-4.5 M293.70,450.50h4.5 M509.00,450.50h-4.5 M293.70,444.50h4.5 M509.00,444.50h-4.5 M293.70,442.50h4.5 M509.00,442.50h-4.5 M293.70,440.50h4.5 M509.00,440.50h-4.5 M293.70,438.50h4.5 M509.00,438.50h-4.5 M293.70,437.50h4.5 M509.00,437.50h-4.5 M293.70,436.50h4.5 M509.00,436.50h-4.5 M293.70,435.50h4.5 M509.00,435.50h-4.5 M293.70,435.50h4.5 M509.00,435.50h-4.5 M293.70,429.50h4.5 M509.00,429.50h-4.5 M293.70,427.50h4.5 M509.00,427.50h-4.5 M293.70,425.50h4.5 M509.00,425.50h-4.5 M293.70,423.50h4.5 M509.00,423.50h-4.5 M293.70,422.50h4.5 M509.00,422.50h-4.5 M293.70,421.50h4.5 M509.00,421.50h-4.5 M293.70,420.50h4.5 M509.00,420.50h-4.5 M293.70,420.50h4.5 M509.00,420.50h-4.5 M293.70,414.50h4.5 M509.00,414.50h-4.5 M293.70,412.50h4.5 M509.00,412.50h-4.5 M293.70,410.50h4.5 M509.00,410.50h-4.5 M293.70,408.50h4.5 M509.00,408.50h-4.5 M293.70,407.50h4.5 M509.00,407.50h-4.5 M293.70,406.50h4.5 M509.00,406.50h-4.5 M293.70,405.50h4.5 M509.00,405.50h-4.5 M293.70,405.50h4.5 M509.00,405.50h-4.5 M293.70,399.50h4.5 M509.00,399.50h-4.5 M293.70,397.50h4.5 M509.00,397.50h-4.5 M293.70,395.50h4.5 M509.00,395.50h-4.5 M293.70,393.50h4.5 M509.00,393.50h-4.5 M293.70,392.50h4.5 M509.00,392.50h-4.5 M293.70,391.50h4.5 M509.00,391.50h-4.5 M293.70,390.50h4.5 M509.00,390.50h-4.5 M293.70,390.50h4.5 M509.00,390.50h-4.5 M293.70,384.50h4.5 M509.00,384.50h-4.5 M293.70,382.50h4.5 M509.00,382.50h-4.5 M293.70,380.50h4.5 M509.00,380.50h-4.5 M293.70,378.50h4.5 M509.00,378.50h-4.5 M293.70,377.50h4.5 M509.00,377.50h-4.5 M293.70,376.50h4.5 M509.00,376.50h-4.5 M293.70,375.50h4.5 M509.00,375.50h-4.5 M293.70,375.50h4.5 M509.00,375.50h-4.5 M293.70,369.50h4.5 M509.00,369.50h-4.5 M293.70,367.50h4.5 M509.00,367.50h-4.5 M293.70,365.50h4.5 M509.00,365.50h-4.5 M293.70,363.50h4.5 M509.00,363.50h-4.5 M293.70,362.50h4.5 M509.00,362.50h-4.5 M293.70,361.50h4.5 M509.00,361.50h-4.5 M293.70,360.50h4.5 M509.00,360.50h-4.5 M293.70,360.50h4.5 M509.00,360.50h-4.5" stroke="#4a4a4a" stroke-width="1" fill="none"/><rect x="293.70" y="359.40" width="215.30" height="150.00" fill="none" stroke="#555" stroke-width="1.4"/><text x="58.2" y="161.7" fill="#000" font-size="16.0" text-anchor="end" font-family="Liberation Sans">1</text><text x="55.0" y="136.2" font-size="16" text-anchor="end" fill="#000">10<tspan dy="-9.5" font-size="10.3">2</tspan></text><text x="55.0" y="106.7" font-size="16" text-anchor="end" fill="#000">10<tspan dy="-9.5" font-size="10.3">4</tspan></text><text x="55.0" y="77.2" font-size="16" text-anchor="end" fill="#000">10<tspan dy="-9.5" font-size="10.3">6</tspan></text><text x="55.0" y="47.7" font-size="16" text-anchor="end" fill="#000">10<tspan dy="-9.5" font-size="10.3">8</tspan></text><text x="55.0" y="18.2" font-size="16" text-anchor="end" fill="#000">10<tspan dy="-9.5" font-size="10.3">10</tspan></text><text x="58.2" y="338.2" fill="#000" font-size="16.0" text-anchor="end" font-family="Liberation Sans">1</text><text x="55.0" y="312.4" font-size="16" text-anchor="end" fill="#000">10<tspan dy="-9.5" font-size="10.3">2</tspan></text><text x="55.0" y="282.6" font-size="16" text-anchor="end" fill="#000">10<tspan dy="-9.5" font-size="10.3">4</tspan></text><text x="55.0" y="252.8" font-size="16" text-anchor="end" fill="#000">10<tspan dy="-9.5" font-size="10.3">6</tspan></text><text x="55.0" y="223.0" font-size="16" text-anchor="end" fill="#000">10<tspan dy="-9.5" font-size="10.3">8</tspan></text><text x="55.0" y="193.2" font-size="16" text-anchor="end" fill="#000">10<tspan dy="-9.5" font-size="10.3">10</tspan></text><text x="58.2" y="514.7" fill="#000" font-size="16.0" text-anchor="end" font-family="Liberation Sans">1</text><text x="55.0" y="488.6" font-size="16" text-anchor="end" fill="#000">10<tspan dy="-9.5" font-size="10.3">2</tspan></text><text x="55.0" y="458.6" font-size="16" text-anchor="end" fill="#000">10<tspan dy="-9.5" font-size="10.3">4</tspan></text><text x="55.0" y="428.5" font-size="16" text-anchor="end" fill="#000">10<tspan dy="-9.5" font-size="10.3">6</tspan></text><text x="55.0" y="398.5" font-size="16" text-anchor="end" fill="#000">10<tspan dy="-9.5" font-size="10.3">8</tspan></text><text x="55.0" y="368.4" font-size="16" text-anchor="end" fill="#000">10<tspan dy="-9.5" font-size="10.3">10</tspan></text><text x="55.0" y="172.1" fill="#000" font-size="16.0" text-anchor="start" font-family="Liberation Serif">&#915;</text><text x="260.8" y="172.8" fill="#000" font-size="16.0" text-anchor="start" font-family="Liberation Sans">X/4</text><text x="55.7" y="348.6" fill="#000" font-size="16.0" text-anchor="start" font-family="Liberation Serif">&#915;</text><text x="262.2" y="349.3" fill="#000" font-size="16.0" text-anchor="start" font-family="Liberation Sans">K/4</text><text x="56.9" y="525.1" fill="#000" font-size="16.0" text-anchor="start" font-family="Liberation Serif">&#915;</text><text x="264.3" y="525.8" fill="#000" font-size="16.0" text-anchor="start" font-family="Liberation Sans">L/4</text><text x="289.3" y="173.2" fill="#000" font-size="16.0" text-anchor="start" font-family="Liberation Serif">&#915;</text><text x="496.8" y="173.9" fill="#000" font-size="16.0" text-anchor="start" font-family="Liberation Sans">X/4</text><text x="288.2" y="348.6" fill="#000" font-size="16.0" text-anchor="start" font-family="Liberation Serif">&#915;</text><text x="495.1" y="349.3" fill="#000" font-size="16.0" text-anchor="start" font-family="Liberation Sans">K/4</text><text x="289.4" y="525.0" fill="#000" font-size="16.0" text-anchor="start" font-family="Liberation Serif">&#915;</text><text x="497.8" y="525.7" fill="#000" font-size="16.0" text-anchor="start" font-family="Liberation Sans">L/4</text><text x="168.8" y="539.3" fill="#000" font-size="17.5" text-anchor="middle" font-family="Liberation Sans">q</text><text x="402.0" y="539.3" fill="#000" font-size="17.5" text-anchor="middle" font-family="Liberation Sans">q</text><text transform="translate(17.3,139.7) rotate(-90)" font-size="15" fill="#000">| g(q) |<tspan dx="0.8" dy="-9" font-size="10.5">2</tspan><tspan dx="1.5" dy="9"> ( meV</tspan><tspan dx="4.5" dy="-9.5" font-size="10.5">2</tspan><tspan dx="1.2" dy="9.5"> )</tspan></text><text transform="translate(17.3,314.2) rotate(-90)" font-size="15" fill="#000">| g(q) |<tspan dx="0.8" dy="-9" font-size="10.5">2</tspan><tspan dx="1.5" dy="9"> ( meV</tspan><tspan dx="4.5" dy="-9.5" font-size="10.5">2</tspan><tspan dx="1.2" dy="9.5"> )</tspan></text><text transform="translate(17.8,491.7) rotate(-90)" font-size="15" fill="#000">| g(q) |<tspan dx="0.8" dy="-9" font-size="10.5">2</tspan><tspan dx="1.5" dy="9"> ( meV</tspan><tspan dx="4.5" dy="-9.5" font-size="10.5">2</tspan><tspan dx="1.2" dy="9.5"> )</tspan></text></svg></body></html>
